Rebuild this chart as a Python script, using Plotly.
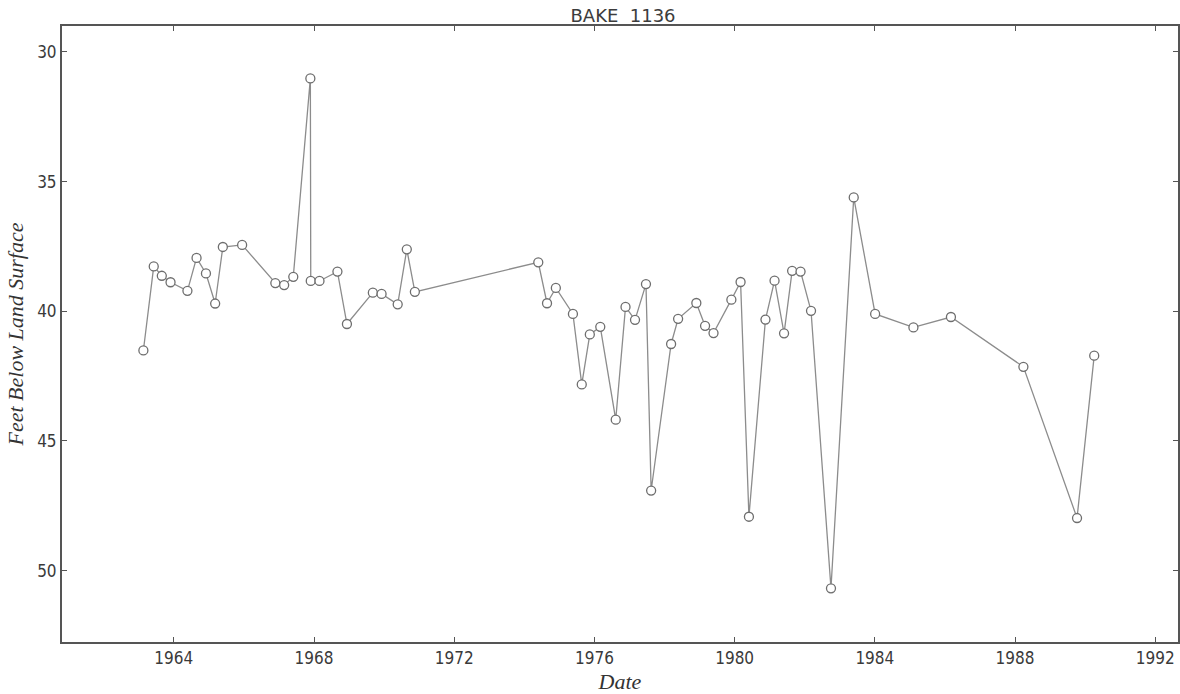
import plotly.graph_objects as go

dates = [
    "1963-02-18", "1963-06-06", "1963-08-29", "1963-11-28", "1964-05-22",
    "1964-08-25", "1964-12-01", "1965-03-07", "1965-05-26", "1965-12-13",
    "1966-11-24", "1967-02-24", "1967-05-30", "1967-11-24", "1967-11-28",
    "1968-02-27", "1968-09-01", "1968-12-09", "1969-09-05", "1969-12-05",
    "1970-05-22", "1970-08-25", "1970-11-17", "1974-05-26", "1974-08-25",
    "1974-11-25", "1975-05-22", "1975-08-22", "1975-11-14", "1976-03-02",
    "1976-08-10", "1976-11-20", "1977-02-27", "1977-06-21", "1977-08-14",
    "1978-03-10", "1978-05-22", "1978-11-28", "1979-02-27", "1979-05-26",
    "1979-11-28", "1980-03-03", "1980-05-29", "1980-11-17", "1981-02-20",
    "1981-05-30", "1981-08-22", "1981-11-18", "1982-03-07", "1982-10-01",
    "1983-05-26", "1984-01-04", "1985-02-06", "1986-03-04", "1988-03-28",
    "1989-10-08", "1990-04-05",
]
depth_ft = [
    41.51, 38.27, 38.63, 38.88, 39.21,
    37.94, 38.54, 39.70, 37.52, 37.44,
    38.91, 38.99, 38.67, 31.02, 38.83,
    38.83, 38.47, 40.49, 39.28, 39.33,
    39.73, 37.61, 39.25, 38.11, 39.69,
    39.10, 40.10, 42.82, 40.89, 40.60,
    44.18, 39.83, 40.33, 38.95, 46.91,
    41.26, 40.29, 39.68, 40.56, 40.84,
    39.55, 38.87, 47.92, 40.32, 38.82,
    40.85, 38.44, 38.47, 39.98, 50.68,
    35.61, 40.10, 40.62, 40.22, 42.14,
    47.97, 41.71,
]
x_tick_vals = ["1964-01-01", "1968-01-01", "1972-01-01", "1976-01-01",
               "1980-01-01", "1984-01-01", "1988-01-01", "1992-01-01"]
x_tick_text = ["1964", "1968", "1972", "1976", "1980", "1984", "1988", "1992"]
y_tick_vals = [30, 35, 40, 45, 50]

fig = go.Figure()
fig.add_trace(go.Scatter(
    x=dates, y=depth_ft, mode="lines+markers",
    line=dict(color="#8c8c8c", width=1.3),
    marker=dict(symbol="circle", size=9, color="white",
                line=dict(color="#6e6e6e", width=1.3)),
    showlegend=False,
))

axis_font = dict(family="DejaVu Sans Condensed, DejaVu Sans", size=17, color="#3a3a3a")
label_font = dict(family="Liberation Serif", size=22, color="#333333")

fig.update_layout(
    width=1180, height=694,
    margin=dict(l=62, r=2, t=26, b=52),
    paper_bgcolor="white", plot_bgcolor="white",
    title=dict(text="BAKE\u00a0\u00a01136", x=0.528, xanchor="center",
               y=0.987, yanchor="top",
               font=dict(family="DejaVu Sans", size=18, color="#3c3c3c")),
    xaxis=dict(
        type="date", range=["1960-10-23", "1992-08-25"],
        tickvals=x_tick_vals, ticktext=x_tick_text,
        ticks="inside", ticklen=5, tickwidth=1.2, tickcolor="#555555",
        showline=True, linecolor="#555555", linewidth=2, mirror="ticks",
        showgrid=False, zeroline=False, tickfont=axis_font, automargin=False,
        title=dict(text="<i>Date</i>", font=label_font, standoff=14),
    ),
    yaxis=dict(
        range=[52.75, 29.0], tickvals=y_tick_vals,
        ticks="inside", ticklen=5, tickwidth=1.2, tickcolor="#555555",
        showline=True, linecolor="#555555", linewidth=2, mirror="ticks",
        showgrid=False, zeroline=False, tickfont=axis_font, automargin=False,
        title=dict(text="<i>Feet Below Land Surface</i>", font=label_font, standoff=7),
    ),
)

fig.write_html(
    "out.html",
    config={"displayModeBar": False},
    post_script="document.body.style.margin='0';document.body.style.padding='0';",
)
